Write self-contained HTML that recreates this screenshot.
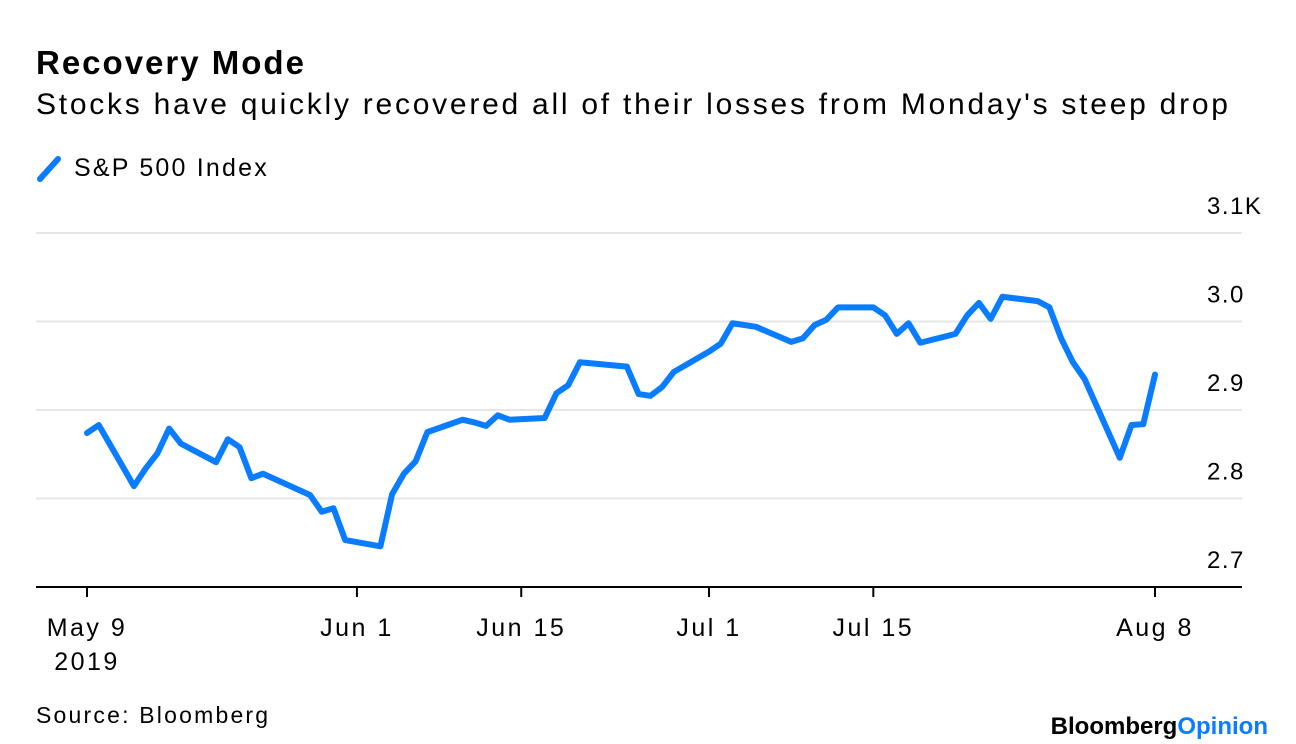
<!DOCTYPE html>
<html><head><meta charset="utf-8"><style>
body{margin:0;width:1296px;height:744px;background:#fff;font-family:"Liberation Sans",sans-serif;overflow:hidden;position:relative}
.t{position:absolute;white-space:nowrap;color:#000}
</style></head><body>
<div class="t" style="left:36px;top:44px;font-size:33px;font-weight:bold;letter-spacing:2px">Recovery Mode</div>
<div class="t" style="left:36px;top:88px;font-size:30px;letter-spacing:2.75px">Stocks have quickly recovered all of their losses from Monday's steep drop</div>
<div style="position:absolute;left:36px;top:152px;height:30px">
<svg width="30" height="30" style="position:absolute;left:0;top:2px"><line x1="4" y1="25" x2="22" y2="5" stroke="#0A7CFF" stroke-width="6" stroke-linecap="round"/></svg>
<span class="t" style="left:38px;top:2px;font-size:25px;letter-spacing:2.2px">S&amp;P 500 Index</span></div>
<svg id="chart" width="1296" height="744" style="position:absolute;left:0;top:0"></svg>
<div class="t" style="left:36px;top:702px;font-size:23px;letter-spacing:2.2px">Source: Bloomberg</div>
<div class="t" style="right:28px;top:713px;font-size:24px;font-weight:bold;letter-spacing:0px">Bloomberg<span style="color:#0A7CFF">Opinion</span></div>
<script>
const days=[0,1,4,5,6,7,8,11,12,13,14,15,19,20,21,22,25,26,27,28,29,32,33,34,35,36,39,40,41,42,46,47,48,49,50,53,54,55,57,60,61,62,63,64,67,68,69,70,71,74,75,76,77,78,81,82,83,84,85,88,89,90,91];
const values=[2.874,2.883,2.814,2.834,2.851,2.879,2.862,2.841,2.867,2.858,2.823,2.828,2.804,2.785,2.789,2.753,2.746,2.805,2.828,2.842,2.875,2.889,2.886,2.882,2.894,2.889,2.891,2.919,2.928,2.954,2.949,2.918,2.916,2.926,2.943,2.966,2.975,2.998,2.994,2.977,2.981,2.996,3.002,3.016,3.016,3.007,2.986,2.998,2.976,2.986,3.007,3.021,3.003,3.028,3.023,3.016,2.981,2.954,2.935,2.846,2.883,2.884,2.940];
const yTicks=[2.7,2.8,2.9,3.0,3.1];
const yTickLabels=["2.7","2.8","2.9","3.0","3.1K"];
const xTickDays=[0,23,37,53,67,91];
const xTickLabels=["May 9","Jun 1","Jun 15","Jul 1","Jul 15","Aug 8"];
const svg=document.getElementById('chart');
const NS='http://www.w3.org/2000/svg';
const x=d=>87+d*(1155-87)/91;
const y=v=>587-(v-2.7)*885;
function mk(t,a){const e=document.createElementNS(NS,t);for(const k in a)e.setAttribute(k,a[k]);svg.appendChild(e);return e;}
yTicks.forEach((v,i)=>{
 if(i>0){const g=mk('line',{x1:36,x2:1242,y1:y(v),y2:y(v),stroke:'#e6e6e6','stroke-width':2});
 
 }
 const t=mk('text',{x:1207,y:y(v)-19,'text-anchor':'start','font-size':24,'letter-spacing':'1.5',fill:'#000','font-family':'Liberation Sans, sans-serif'});
 t.textContent=yTickLabels[i];
 
 
});
const ax=mk('line',{x1:36,x2:1242,y1:587,y2:587,stroke:'#000','stroke-width':2});


xTickDays.forEach((d,i)=>{
 const tk=mk('line',{x1:x(d),x2:x(d),y1:587,y2:597,stroke:'#000','stroke-width':2});
 
 
 const t=mk('text',{x:x(d),y:636,'text-anchor':'middle','font-size':25,'letter-spacing':'2.5',fill:'#000','font-family':'Liberation Sans, sans-serif'});
 t.textContent=xTickLabels[i];
 
 
});
const yr=mk('text',{x:x(0),y:670,'text-anchor':'middle','font-size':25,'letter-spacing':'2.5',fill:'#000','font-family':'Liberation Sans, sans-serif'});
yr.textContent='2019';


const p=mk('polyline',{points:days.map((d,i)=>x(d)+','+y(values[i])).join(' '),fill:'none',stroke:'#0A7CFF','stroke-width':6,'stroke-linejoin':'round','stroke-linecap':'round'});


</script>
</body></html>
